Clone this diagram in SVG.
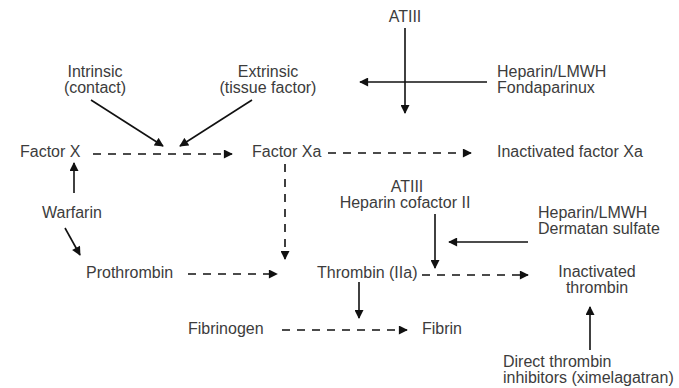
<svg xmlns="http://www.w3.org/2000/svg" width="679" height="388" viewBox="0 0 679 388">
  <style>
    text { font-family: "Liberation Sans", Arial, sans-serif; font-size: 16px; fill: #3c3c3c; }
    .mid { text-anchor: middle; }
    .solid { stroke: #111; stroke-width: 1.6; fill: none; marker-end: url(#head); }
    .dash { stroke: #111; stroke-width: 1.6; fill: none; stroke-dasharray: 8 7; marker-end: url(#head); }
  </style>
  <defs>
    <marker id="head" viewBox="0 0 10 10" refX="9" refY="5" markerWidth="10" markerHeight="9" markerUnits="userSpaceOnUse" orient="auto">
      <path d="M0,0 L10,5 L0,10 z" fill="#111"/>
    </marker>
  </defs>
  <rect width="679" height="388" fill="#fff"/>

  <g id="connectors">
    <line class="solid" x1="405" y1="28" x2="405" y2="113"/>
    <line class="solid" x1="487" y1="82" x2="360" y2="82"/>
    <line class="solid" x1="91" y1="100" x2="163" y2="146"/>
    <line class="solid" x1="252" y1="100" x2="180" y2="146"/>
    <line class="dash" x1="93" y1="154" x2="232" y2="154"/>
    <line class="dash" x1="328" y1="153" x2="471" y2="153"/>
    <line class="dash" x1="285" y1="164" x2="285" y2="259"/>
    <line class="solid" x1="74" y1="193" x2="74" y2="163"/>
    <line class="solid" x1="65" y1="228" x2="80" y2="255"/>
    <line class="dash" x1="188" y1="274" x2="277" y2="274"/>
    <line class="solid" x1="435" y1="214" x2="435" y2="268"/>
    <line class="solid" x1="528" y1="242" x2="449" y2="242"/>
    <line class="dash" x1="422" y1="275" x2="528" y2="275"/>
    <line class="solid" x1="359" y1="282" x2="359" y2="318"/>
    <line class="dash" x1="282" y1="330" x2="407" y2="330"/>
    <line class="solid" x1="590" y1="350" x2="590" y2="307"/>
  </g>

  <g id="atiii-top"><text class="mid" x="405" y="22">ATIII</text></g>
  <g id="intrinsic"><text class="mid" x="95" y="77">Intrinsic</text><text class="mid" x="95" y="93">(contact)</text></g>
  <g id="extrinsic"><text class="mid" x="268" y="77">Extrinsic</text><text class="mid" x="268" y="93">(tissue factor)</text></g>
  <g id="heparin-fonda"><text x="497" y="77">Heparin/LMWH</text><text x="497" y="93">Fondaparinux</text></g>
  <g id="factor-x"><text x="20" y="157">Factor X</text></g>
  <g id="factor-xa"><text x="252" y="157">Factor Xa</text></g>
  <g id="inactivated-xa"><text x="497" y="157">Inactivated factor Xa</text></g>
  <g id="atiii-hcii"><text class="mid" x="407" y="192">ATIII</text><text class="mid" x="405" y="208">Heparin cofactor II</text></g>
  <g id="heparin-dermatan"><text x="538" y="218">Heparin/LMWH</text><text x="538" y="234">Dermatan sulfate</text></g>
  <g id="warfarin"><text x="42" y="218">Warfarin</text></g>
  <g id="prothrombin"><text x="86" y="278">Prothrombin</text></g>
  <g id="thrombin"><text x="317" y="278">Thrombin (IIa)</text></g>
  <g id="inactivated-thrombin"><text class="mid" x="597" y="277">Inactivated</text><text class="mid" x="597" y="293">thrombin</text></g>
  <g id="fibrinogen"><text x="188" y="334">Fibrinogen</text></g>
  <g id="fibrin"><text x="422" y="334">Fibrin</text></g>
  <g id="dti"><text x="503" y="367">Direct thrombin</text><text x="503" y="383">inhibitors (ximelagatran)</text></g>
</svg>
